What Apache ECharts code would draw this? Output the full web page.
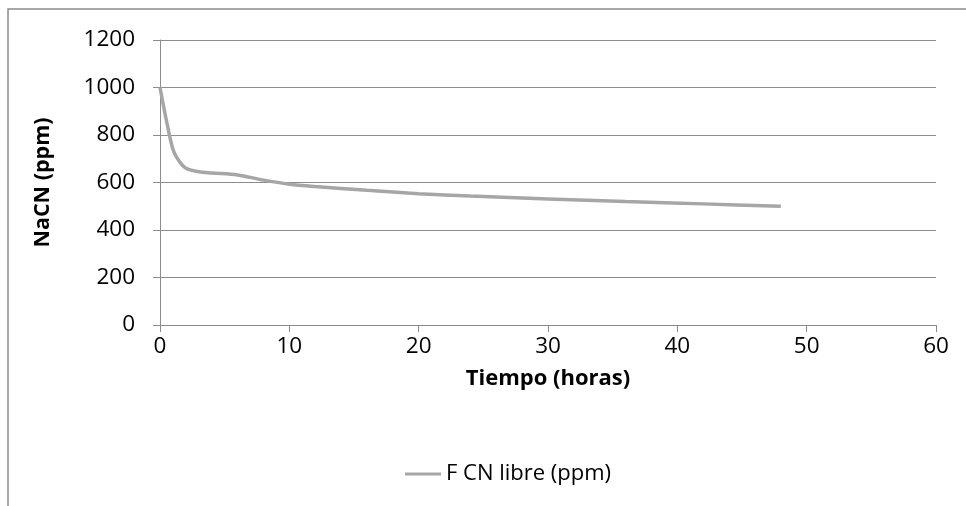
<!DOCTYPE html>
<html><head><meta charset="utf-8">
<script src="https://cdn.jsdelivr.net/npm/echarts@6/dist/echarts.min.js"></script>
<style>html,body{margin:0;padding:0;background:#fff}#c{width:966px;height:506px}</style>
</head><body><div id="c"></div>
<script>
const times = [0, 0.5, 1, 1.5, 2, 3, 4, 6, 8, 10, 12, 16, 20, 24, 30, 36, 42, 48];
const naCN = [1000, 860, 740, 688, 660, 645, 640, 632, 610, 593, 583, 567, 553, 543, 531, 520, 510, 500];
const seriesName = 'F CN libre (ppm)';
const xTitle = 'Tiempo (horas)';
const yTitle = 'NaCN (ppm)';

const chart = echarts.init(document.getElementById('c'));
const font = 'Open Sans';
chart.setOption({
  animation: false,
  backgroundColor: '#fff',
  graphic: [{type: 'rect', shape: {x: 8, y: 9, width: 1000, height: 600}, style: {fill: 'none', stroke: '#8c8c8c', lineWidth: 1.5}, z: -1}],
  grid: {left: 160, right: 30, top: 40, bottom: 181},
  legend: {
    data: [seriesName], bottom: 16, left: 400, itemWidth: 36, itemHeight: 3, itemGap: 4,
    icon: 'rect',
    textStyle: {fontFamily: font, fontSize: 22, color: '#000'}
  },
  xAxis: {
    type: 'value', min: 0, max: 60, interval: 10,
    name: xTitle, nameLocation: 'middle', nameGap: 43,
    nameTextStyle: {fontFamily: font, fontSize: 22, fontWeight: 'bold', color: '#000'},
    axisLine: {lineStyle: {color: '#8c8c8c', width: 1}},
    axisTick: {show: true, length: 7, inside: false, lineStyle: {color: '#8c8c8c'}},
    axisLabel: {fontFamily: font, fontSize: 22.5, color: '#000', margin: 10, formatter: v => String(v)},
    splitLine: {show: false}
  },
  yAxis: {
    type: 'value', min: 0, max: 1200, interval: 200,
    name: yTitle, nameLocation: 'middle', nameGap: 106,
    nameTextStyle: {fontFamily: font, fontSize: 21.5, fontWeight: 'bold', color: '#000'},
    axisLine: {show: true, lineStyle: {color: '#8c8c8c', width: 1}},
    axisTick: {show: true, length: 7, lineStyle: {color: '#8c8c8c'}},
    axisLabel: {fontFamily: font, fontSize: 22.5, color: '#000', margin: 25, formatter: v => String(v)},
    splitLine: {show: true, lineStyle: {color: '#8c8c8c', width: 1}}
  },
  series: [{
    name: seriesName, type: 'line', smooth: 0.3, showSymbol: false, symbol: 'none',
    data: times.map((t, i) => [t, naCN[i]]),
    lineStyle: {color: '#a6a6a6', width: 3.5},
    itemStyle: {color: '#a6a6a6'}
  }]
});
</script></body></html>
